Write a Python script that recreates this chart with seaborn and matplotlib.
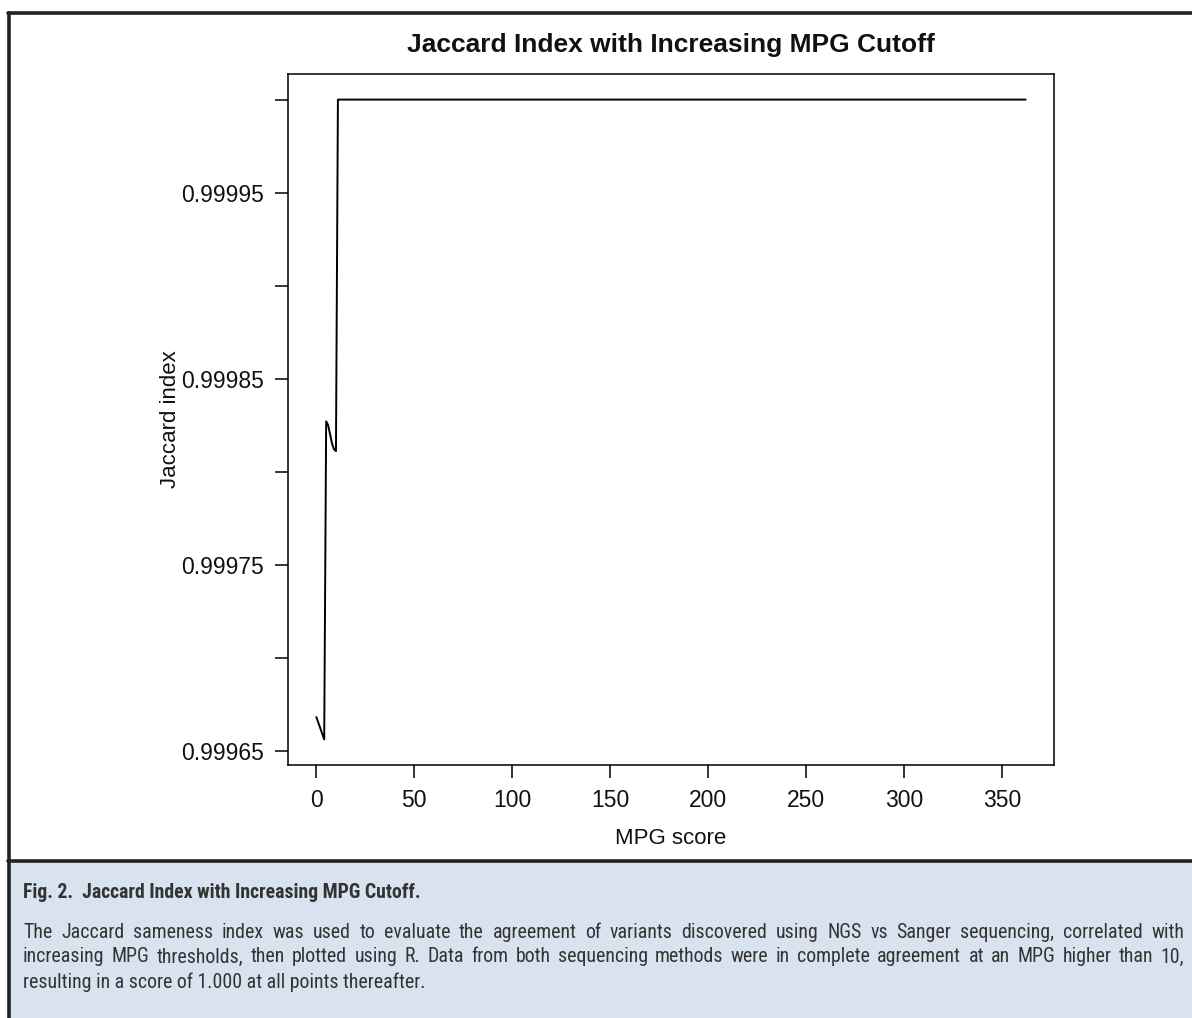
import matplotlib
matplotlib.use("Agg")
import matplotlib.pyplot as plt
import seaborn as sns
import pandas as pd
from matplotlib.patches import Rectangle
from matplotlib.lines import Line2D
from matplotlib import font_manager as fm

# ---- data ----
mpg_score = [0, 1, 2, 3, 4, 5, 6, 7, 8, 9, 10, 11, 362]
jaccard = [0.999668, 0.999665, 0.999662, 0.999659, 0.999656,
           0.999827, 0.999825, 0.999820, 0.999815, 0.999812, 0.999811,
           1.0, 1.0]
x_ticks = [0, 50, 100, 150, 200, 250, 300, 350]
y_ticks = [0.99965, 0.99970, 0.99975, 0.99980, 0.99985, 0.99990, 0.99995, 1.00000]
y_tick_labels = ["0.99965", "", "0.99975", "", "0.99985", "", "0.99995", ""]

title = "Jaccard Index with Increasing MPG Cutoff"
x_label = "MPG score"
y_label = "Jaccard index"
cap_head = "Fig. 2.  Jaccard Index with Increasing MPG Cutoff."
cap_lines = [
    "The Jaccard sameness index was used to evaluate the agreement of variants discovered using NGS vs Sanger sequencing, correlated with",
    "increasing MPG thresholds, then plotted using R. Data from both sequencing methods were in complete agreement at an MPG higher than 10,",
    "resulting in a score of 1.000 at all points thereafter.",
]

df = pd.DataFrame({"mpg": mpg_score, "jaccard": jaccard})

sns.set_style("ticks")
plt.rcParams["font.family"] = ["Liberation Sans", "DejaVu Sans"]


def find_condensed(bold):
    cands = []
    for f in fm.fontManager.ttflist:
        nm = f.name
        st = str(f.stretch).lower()
        is_cond = ("condensed" in st or "narrow" in st or "Condensed" in nm
                   or "Narrow" in nm or "condensed" in f.fname.lower()
                   or "narrow" in f.fname.lower())
        if not is_cond:
            continue
        w = f.weight if isinstance(f.weight, int) else (700 if "bold" in str(f.weight).lower() else 400)
        if "oblique" in f.style or "italic" in f.style:
            continue
        if bold and w < 600:
            continue
        if not bold and w >= 600:
            continue
        if not bold and w < 350:
            continue
        pri = 5
        for i, key in enumerate(["Roboto", "Open Sans", "Noto Sans", "Liberation", "DejaVu"]):
            if key.lower() in nm.lower():
                pri = i
                break
        cands.append((pri, f.fname))
    if cands:
        cands.sort()
        return fm.FontProperties(fname=cands[0][1])
    return fm.FontProperties(family="DejaVu Sans", stretch="condensed",
                             weight="bold" if bold else "normal")


cap_reg = find_condensed(False)
cap_bold = find_condensed(True)

W, H = 1192, 1018
fig = plt.figure(figsize=(W / 100, H / 100), dpi=100)
fig.patch.set_facecolor("white")


def fx(px):
    return px / W


def fy(py):
    return 1 - py / H


# caption background
fig.patches.append(Rectangle((fx(8), 0), 1 - fx(8), fy(861), transform=fig.transFigure,
                             facecolor="#d9e2ef", edgecolor="none", zorder=0))
# outer frame lines
frame_c = "#222222"
fig.lines.append(Line2D([fx(9), fx(9)], [0, fy(13)], transform=fig.transFigure, color=frame_c, lw=2.6))
fig.lines.append(Line2D([fx(8), 1], [fy(13), fy(13)], transform=fig.transFigure, color=frame_c, lw=2.6))
fig.lines.append(Line2D([fx(8), 1], [fy(861), fy(861)], transform=fig.transFigure, color=frame_c, lw=2.6))

ax = fig.add_axes([fx(288), fy(765), fx(1054) - fx(288), fy(74) - fy(765)])
sns.lineplot(data=df, x="mpg", y="jaccard", ax=ax, color="black", linewidth=1.4, estimator=None)

xmin, xmax = min(mpg_score), max(mpg_score)
ymin, ymax = min(jaccard), max(jaccard)
xr, yr = xmax - xmin, ymax - ymin
ax.set_xlim(xmin - 0.04 * xr, xmax + 0.04 * xr)
ax.set_ylim(ymin - 0.04 * yr, ymax + 0.04 * yr)

ax.set_xticks(x_ticks)
ax.set_xticklabels([str(t) for t in x_ticks])
ax.set_yticks(y_ticks)
ax.set_yticklabels(y_tick_labels)
ax.tick_params(axis="both", direction="out", length=9.5, width=1.1, color="black",
               labelsize=16.5, pad=8, labelcolor="#111111")
for s in ax.spines.values():
    s.set_visible(True)
    s.set_color("black")
    s.set_linewidth(1.1)
ax.set_xlabel("")
ax.set_ylabel("")

fig.text(fx(671), fy(45), title, ha="center", va="center", fontsize=19, fontweight="bold", color="#111111")
fig.text(fx(671), fy(838), x_label, ha="center", va="center", fontsize=16, color="#111111")
fig.text(fx(170), fy(419), y_label, ha="center", va="center", fontsize=16, rotation=90, color="#111111")

cap_color = "#333333"
hp = cap_bold.copy()
hp.set_size(14.2)
fig.text(fx(23), fy(893), cap_head, ha="left", va="center", fontproperties=hp, color=cap_color)

# justified caption lines
fig.canvas.draw()
renderer = fig.canvas.get_renderer()
left_px, right_px = 23, 1184
line_y = [932, 957, 982]
bp = cap_reg.copy()
bp.set_size(14.3)
for i, line in enumerate(cap_lines):
    words = line.split(" ")
    justify = i < len(cap_lines) - 1
    if not justify:
        fig.text(fx(left_px), fy(line_y[i]), line, ha="left", va="center",
                 fontproperties=bp, color=cap_color)
        continue
    texts = []
    widths = []
    for w in words:
        t = fig.text(0, fy(line_y[i]), w, ha="left", va="center",
                     fontproperties=bp, color=cap_color)
        bb = t.get_window_extent(renderer=renderer)
        texts.append(t)
        widths.append(bb.width)
    total = sum(widths)
    gap = (right_px - left_px - total) / (len(words) - 1)
    x = left_px
    for t, wd in zip(texts, widths):
        t.set_x(fx(x))
        x += wd + gap

fig.savefig("out.png", dpi=100)
